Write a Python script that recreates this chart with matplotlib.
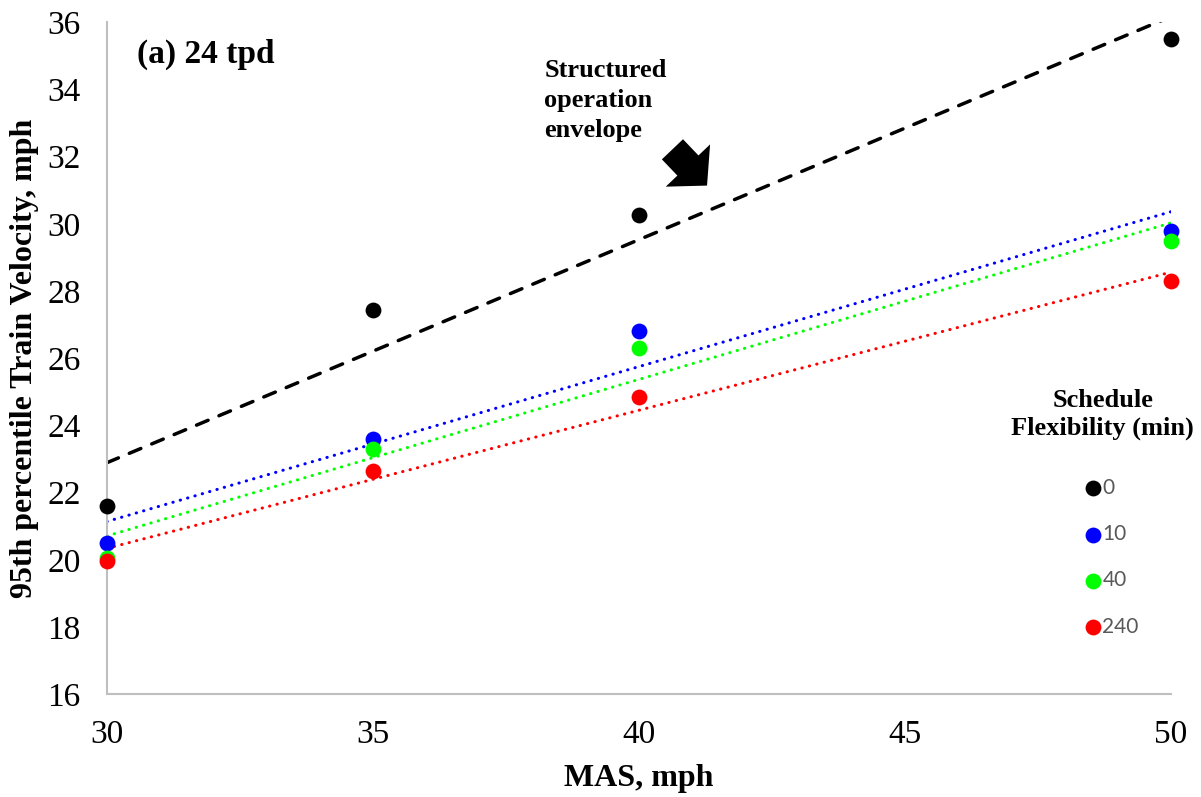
"""95th percentile train velocity vs MAS, 24 tpd case."""

import matplotlib
matplotlib.use("Agg")
import matplotlib.pyplot as plt
import numpy as np

# MAS values (mph)
mas = [30, 35, 40, 50]

# 95th percentile train velocity (mph) per schedule flexibility
flex_labels = ["0", "10", "40", "240"]
v_flex_0 = [21.6, 27.45, 30.25, 35.5]
v_flex_10 = [20.5, 23.6, 26.8, 29.8]
v_flex_40 = [20.05, 23.3, 26.3, 29.5]
v_flex_240 = [19.95, 22.65, 24.85, 28.3]

series = [v_flex_0, v_flex_10, v_flex_40, v_flex_240]
colors = ["#000000", "#0000FF", "#00FF00", "#FF0000"]

x_ticks = [30, 35, 40, 45, 50]
y_ticks = [16, 18, 20, 22, 24, 26, 28, 30, 32, 34, 36]

SERIF = "Liberation Serif"


def main() -> None:
    fig = plt.figure(figsize=(12.01, 7.97), dpi=100)
    ax = fig.add_axes([0.089, 0.129, 0.886, 0.843])

    # linear trend lines (black = structured operation envelope)
    x_line = np.array([30.0, 50.0])
    handles = []
    for i, (values, color) in enumerate(zip(series, colors)):
        slope, intercept = np.polyfit(mas, values, 1)
        if i == 0:
            ax.plot(x_line, slope * x_line + intercept, color=color, lw=2.5,
                    linestyle=(0, (3.6, 3.4)), dash_capstyle="round", zorder=2)
        else:
            ax.plot(x_line, slope * x_line + intercept, color=color, lw=2.2,
                    linestyle=(0, (0.1, 2.4)), dash_capstyle="round", zorder=2)
    for values, color, label in zip(series, colors, flex_labels):
        h = ax.scatter(mas, values, s=130, color=color, zorder=3, label=label,
                       clip_on=False, linewidths=0)
        handles.append(h)

    ax.set_xlim(30, 50)
    ax.set_ylim(16, 36)
    ax.set_xticks(x_ticks)
    ax.set_yticks(y_ticks)
    ax.tick_params(length=0, labelsize=24)
    ax.tick_params(axis="x", pad=18)
    ax.tick_params(axis="y", pad=19)
    for lbl in ax.get_xticklabels() + ax.get_yticklabels():
        lbl.set_fontfamily(SERIF)

    for side in ["top", "right"]:
        ax.spines[side].set_visible(False)
    for side in ["left", "bottom"]:
        ax.spines[side].set_color("#BFBFBF")
        ax.spines[side].set_linewidth(1.5)

    ax.set_xlabel("MAS, mph", fontfamily=SERIF, fontweight="bold", fontsize=23,
                  labelpad=10)
    ax.set_ylabel("95th percentile Train Velocity, mph", fontfamily=SERIF,
                  fontweight="bold", fontsize=23, labelpad=6)

    ax.text(0.028, 0.952, "(a) 24 tpd", transform=ax.transAxes, fontfamily=SERIF,
            fontweight="bold", fontsize=24, va="center", ha="left")
    ax.text(0.411, 0.945, "Structured\noperation\nenvelope", transform=ax.transAxes,
            fontfamily=SERIF, fontweight="bold", fontsize=19, va="top", ha="left",
            linespacing=1.37)
    ax.annotate("", xy=(0.564, 0.757), xytext=(0.5315, 0.811),
                xycoords="axes fraction", textcoords="axes fraction",
                arrowprops=dict(arrowstyle="simple,head_length=0.95,head_width=2.1,tail_width=1.0",
                                fc="black", ec="black", lw=0, mutation_scale=21,
                                shrinkA=0, shrinkB=0))

    # legend title drawn as its own text so the entries can sit off-centre
    ax.text(0.936, 0.4167, "Schedule\nFlexibility (min)", transform=ax.transAxes,
            fontfamily=SERIF, fontweight="bold", fontsize=19, ha="center",
            va="center", multialignment="center", linespacing=1.25)
    leg = ax.legend(handles=handles, loc="upper left", bbox_to_anchor=(0.911, 0.338),
                    frameon=False, borderpad=0, handlelength=0.6, handletextpad=0.15,
                    labelspacing=1.27, prop={"family": "Lato", "size": 15})
    for txt in leg.get_texts():
        txt.set_color("#595959")

    fig.savefig("out.png", dpi=100)
    plt.close(fig)


if __name__ == "__main__":
    main()
